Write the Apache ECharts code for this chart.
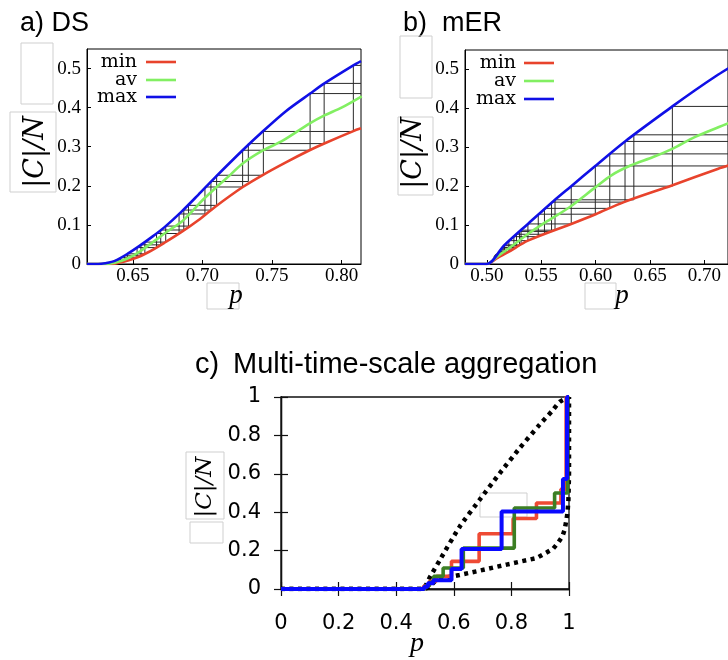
<!DOCTYPE html>
<html><head><meta charset="utf-8">
<script src="https://cdn.jsdelivr.net/npm/echarts@6/dist/echarts.min.js"></script>
<style>html,body{margin:0;padding:0;background:#fff}#c{width:728px;height:660px}</style>
</head><body><div id="c"></div>
<script>
// ---------- Panel a) DS ----------
const aMinX = [0.617,0.630,0.637,0.6514,0.661,0.673,0.685,0.697,0.709,0.729,0.743,0.760,0.777,0.788,0.8085,0.814];
const aMinY = [0,0,0.001,0.0145,0.030,0.055,0.082,0.112,0.146,0.197,0.227,0.260,0.291,0.309,0.340,0.347];
const aAvX = [0.617,0.628,0.637,0.646,0.655,0.664,0.6747,0.685,0.6934,0.700,0.7102,0.720,0.7289,0.7438,0.758,0.7769,0.7877,0.800,0.8145];
const aAvY = [0,0,0.003,0.014,0.032,0.055,0.083,0.108,0.138,0.163,0.197,0.228,0.257,0.291,0.316,0.359,0.380,0.400,0.429];
const aMaxX = [0.617,0.625,0.630,0.637,0.6466,0.655,0.664,0.673,0.685,0.697,0.709,0.7289,0.7433,0.760,0.7774,0.7877,0.8085,0.814];
const aMaxY = [0,0,0.002,0.008,0.027,0.047,0.070,0.095,0.134,0.177,0.221,0.291,0.339,0.391,0.436,0.462,0.508,0.519];
const aStepX  = [0.632,0.636,0.638,0.641,0.644,0.646,0.653,0.6558,0.6586,0.667,0.670,0.6736,0.6832,0.6866,0.6900,0.7018,0.7061,0.7102,0.7289,0.7330,0.7438,0.7774,0.7875,0.8085];
const aStepHi = [0.004,0.007,0.010,0.016,0.021,0.026,0.042,0.049,0.056,0.078,0.087,0.097,0.128,0.138,0.150,0.197,0.211,0.227,0.291,0.308,0.339,0.436,0.462,0.508];
const aStepLo = [0.001,0.001,0.002,0.004,0.007,0.010,0.016,0.021,0.026,0.042,0.049,0.056,0.078,0.087,0.097,0.128,0.138,0.150,0.197,0.211,0.227,0.291,0.308,0.339];
const aXTicks = [0.65,0.70,0.75,0.80];
const aYTicks = [0,0.1,0.2,0.3,0.4,0.5];

// ---------- Panel b) mER ----------
const bMinX = [0.48,0.50,0.51,0.52,0.5378,0.5776,0.600,0.626,0.670,0.7127,0.722];
const bMinY = [0,0,0.016,0.031,0.060,0.103,0.128,0.159,0.2018,0.245,0.253];
const bAvX = [0.48,0.50,0.51,0.5216,0.5378,0.5555,0.576,0.5997,0.6145,0.632,0.6528,0.6705,0.691,0.7133,0.722];
const bAvY = [0,0,0.020,0.043,0.077,0.110,0.146,0.197,0.228,0.253,0.275,0.296,0.326,0.352,0.362];
const bMaxX = [0.48,0.50,0.5157,0.5378,0.5614,0.5776,0.5997,0.627,0.6705,0.691,0.7127,0.722];
const bMaxY = [0,0,0.047,0.103,0.162,0.200,0.252,0.315,0.405,0.446,0.487,0.503];
const bStepX  = [0.5067,0.5073,0.5082,0.5085,0.5105,0.5129,0.5141,0.5157,0.5163,0.5203,0.5249,0.5273,0.5301,0.5315,0.5378,0.5473,0.5530,0.5595,0.5627,0.5776,0.5997,0.6130,0.6270,0.6351,0.6705];
const bStepHi = [0.020,0.022,0.0245,0.0255,0.0315,0.0386,0.0424,0.047,0.049,0.060,0.0703,0.0764,0.0834,0.0869,0.103,0.128,0.143,0.159,0.165,0.200,0.252,0.283,0.315,0.332,0.405];
const bStepLo = [0.0107,0.0117,0.013,0.0136,0.0168,0.020,0.022,0.0245,0.0255,0.0315,0.0386,0.0424,0.047,0.049,0.060,0.0703,0.0764,0.0834,0.0869,0.103,0.128,0.143,0.159,0.165,0.200];
const bXTicks = [0.50,0.55,0.60,0.65,0.70];
const bYTicks = [0,0.1,0.2,0.3,0.4,0.5];

// ---------- Panel c) Multi-time-scale aggregation ----------
const cUpperX = [0,0.49,0.52,0.552,0.621,0.69,0.76,0.829,0.898,0.94,0.968,1.0];
const cUpperY = [0,0,0.07,0.152,0.326,0.465,0.604,0.734,0.856,0.925,0.975,1.0];
const cLowerX = [0,0.50,0.517,0.534,0.563,0.62,0.679,0.783,0.887,0.922,0.945,0.962,0.977,0.985,0.991,0.995,0.998,1.0,1.0];
const cLowerY = [0,0,0.014,0.04,0.057,0.073,0.092,0.127,0.161,0.19,0.21,0.24,0.274,0.309,0.36,0.40,0.465,0.6,1.0];
const cRedX = [0,0.495,0.515,0.54,0.592,0.688,0.806,0.887,0.972,0.99,1.0];
const cRedY = [0,0.015,0.04,0.066,0.144,0.288,0.367,0.448,0.52,1.0,1.0];
const cGreenX = [0,0.50,0.515,0.53,0.563,0.633,0.810,0.950,0.995,1.0];
const cGreenY = [0,0.015,0.035,0.066,0.109,0.213,0.422,0.50,1.0,1.0];
const cBlueX = [0,0.497,0.51,0.529,0.592,0.627,0.766,0.979,0.993,1.0];
const cBlueY = [0,0.012,0.03,0.045,0.104,0.208,0.404,0.573,1.0,1.0];
const cTicks = [0,0.2,0.4,0.6,0.8,1];

// ---------- helpers ----------
const zip = (xs, ys) => xs.map((x, i) => [x, ys[i]]);
function gridSegs(xs, lo, hi, chain, xmax) {
  const segs = [];
  for (let i = 0; i < xs.length; i++) {
    segs.push([xs[i], lo[i], xs[i], hi[i]]);
    const xe = (i + chain < xs.length) ? xs[i + chain] : xmax;
    segs.push([xs[i], hi[i], xe, hi[i]]);
  }
  return segs;
}
function segSeries(ai, segs) {
  return {
    type: 'custom', xAxisIndex: ai, yAxisIndex: ai, data: segs, silent: true, z: 1, clip: true,
    encode: { x: [0, 2], y: [1, 3] },
    renderItem: (params, api) => {
      const p0 = api.coord([api.value(0), api.value(1)]);
      const p1 = api.coord([api.value(2), api.value(3)]);
      return { type: 'line', shape: { x1: p0[0], y1: p0[1], x2: p1[0], y2: p1[1] },
               style: { stroke: '#2a2a2a', lineWidth: 1 } };
    }
  };
}
function curve(ai, xs, ys, color, w) {
  return { type: 'line', xAxisIndex: ai, yAxisIndex: ai, data: zip(xs, ys), smooth: 0.3,
           showSymbol: false, silent: true, z: 3,
           lineStyle: { color: color, width: w } };
}
const RED = '#e8432c', GREEN = '#82ef62', BLUE = '#1010e6';
const serif = 'Liberation Serif';

function xAx(grid, min, max, ticks, fmt) {
  return { type: 'value', gridIndex: grid, min: min, max: max,
    axisLine: { lineStyle: { color: '#000', width: 1 } },
    axisTick: { inside: true, length: 4, customValues: ticks, lineStyle: { color: '#000' } },
    axisLabel: { customValues: ticks, formatter: fmt, color: '#000', fontFamily: serif, fontSize: 19, margin: 3 },
    splitLine: { show: false } };
}
function yAx(grid, ticks) {
  return { type: 'value', gridIndex: grid, min: 0, max: 0.55,
    axisLine: { lineStyle: { color: '#000', width: 1 } },
    axisTick: { inside: true, length: 4, customValues: ticks, lineStyle: { color: '#000' } },
    axisLabel: { customValues: ticks, formatter: v => (v === 0 ? '0' : v.toFixed(1)), color: '#000',
                 fontFamily: serif, fontSize: 19, margin: 6 },
    splitLine: { show: false } };
}
function cAx(pos, showLabel, isY) {
  return { type: 'value', gridIndex: 2, min: 0, max: 1, interval: 0.2, position: pos,
    axisLine: { lineStyle: { color: '#111', width: 1.3 } },
    axisTick: { inside: true, length: 7, lineStyle: { color: '#111', width: 1.2 } },
    axisLabel: { show: showLabel, color: '#000', fontFamily: 'DejaVu Sans', fontSize: 21, margin: isY ? 20 : 24 },
    splitLine: { show: false } };
}

// graphic helpers
function txt(x, y, s, font, align, rot) {
  return { type: 'text', x: x, y: y, rotation: rot || 0, silent: true,
    style: { text: s, font: font, fill: '#000', align: align || 'left', verticalAlign: 'middle',
             textAlign: align || 'left', textVerticalAlign: 'middle' } };
}
function seg(x1, y1, x2, y2, color, w) {
  return { type: 'line', silent: true, shape: { x1, y1, x2, y2 }, style: { stroke: color, lineWidth: w } };
}
function box(x, y, w, h) {
  return { type: 'rect', silent: true, shape: { x, y, width: w, height: h },
           style: { fill: 'none', stroke: '#cfcfcf', lineWidth: 1 } };
}

const chart = echarts.init(document.getElementById('c'), null, { renderer: 'canvas' });
const grids = [
  { left: 87, top: 49, width: 274, height: 215, show: true, borderColor: '#000', borderWidth: 1 },
  { left: 465, top: 50, right: -10, height: 214, show: true, borderColor: '#000', borderWidth: 1 },
  { left: 281, top: 397, width: 288, height: 192, show: true, borderColor: '#111', borderWidth: 1.3 }
];

const option = {
  animation: false,
  backgroundColor: '#fff',
  grid: grids,
  xAxis: [
    xAx(0, 0.617, 0.814, aXTicks, v => v.toFixed(2)),
    xAx(1, 0.48, 0.7216, bXTicks, v => v.toFixed(2)),
    cAx('bottom', true, false),
    cAx('top', false, false)
  ],
  yAxis: [
    yAx(0, aYTicks),
    yAx(1, bYTicks),
    cAx('left', true, true),
    cAx('right', false, true)
  ],
  series: [
    segSeries(0, gridSegs(aStepX, aStepLo, aStepHi, 3, 0.814)),
    curve(0, aMinX, aMinY, RED, 2.6),
    curve(0, aAvX, aAvY, GREEN, 2.6),
    curve(0, aMaxX, aMaxY, BLUE, 2.6),
    segSeries(1, gridSegs(bStepX, bStepLo, bStepHi, 5, 0.7216)),
    curve(1, bMinX, bMinY, RED, 2.6),
    curve(1, bAvX, bAvY, GREEN, 2.6),
    curve(1, bMaxX, bMaxY, BLUE, 2.6),
    { type: 'line', xAxisIndex: 2, yAxisIndex: 2, data: zip(cUpperX, cUpperY), showSymbol: false, silent: true, z: 2,
      smooth: 0.2, lineStyle: { color: '#000', width: 4.5, type: [4, 4.5], cap: 'butt' } },
    { type: 'line', xAxisIndex: 2, yAxisIndex: 2, data: zip(cLowerX, cLowerY), showSymbol: false, silent: true, z: 2,
      lineStyle: { color: '#000', width: 4.5, type: [4, 4.5], cap: 'butt' } },
    { type: 'line', xAxisIndex: 2, yAxisIndex: 2, step: 'end', data: zip(cRedX, cRedY), showSymbol: false, silent: true, z: 3,
      lineStyle: { color: '#ee4a34', width: 3.6 } },
    { type: 'line', xAxisIndex: 2, yAxisIndex: 2, step: 'end', data: zip(cGreenX, cGreenY), showSymbol: false, silent: true, z: 4,
      lineStyle: { color: '#3c7f24', width: 3.6 } },
    { type: 'line', xAxisIndex: 2, yAxisIndex: 2, step: 'end', data: zip(cBlueX, cBlueY), showSymbol: false, silent: true, z: 5,
      lineStyle: { color: '#0a0aff', width: 4 } }
  ],
  graphic: [
    // titles
    txt(20, 24, 'a) DS', '27px "Liberation Sans"'),
    txt(403, 24, 'b)', '27px "Liberation Sans"'),
    txt(442, 24, 'mER', '27px "Liberation Sans"'),
    txt(195, 365, 'c)', '29px "Liberation Sans"'),
    txt(233, 365, 'Multi-time-scale aggregation', '29px "Liberation Sans"'),
    // placeholder boxes
    box(21, 43, 32, 61), box(10, 112, 46, 80), box(207, 283, 32, 26),
    box(400, 36, 32, 62), box(398, 117, 35, 78), box(585, 283, 31, 26),
    box(186, 452, 38, 67), box(190, 522, 33, 21), box(480, 493, 47, 24),
    // axis titles
    txt(36, 152, '|C|/N', 'italic 27px "DejaVu Serif"', 'center', Math.PI / 2),
    txt(414, 153, '|C|/N', 'italic 27px "DejaVu Serif"', 'center', Math.PI / 2),
    txt(205, 487, '|C|/N', 'italic 23px "DejaVu Serif"', 'center', Math.PI / 2),
    txt(236, 296, 'p', 'italic 27px "Liberation Serif"', 'center'),
    txt(622, 296, 'p', 'italic 27px "Liberation Serif"', 'center'),
    txt(417, 644, 'p', 'italic 28px "Liberation Serif"', 'center'),
    // legend a
    txt(137, 62, 'min', '19px "DejaVu Serif"', 'right'), seg(146, 62, 176, 62, RED, 2.6),
    txt(137, 80, 'av', '19px "DejaVu Serif"', 'right'), seg(146, 80, 176, 80, GREEN, 2.6),
    txt(137, 97, 'max', '19px "DejaVu Serif"', 'right'), seg(146, 97, 176, 97, BLUE, 2.6),
    // legend b
    txt(516, 63, 'min', '19px "DejaVu Serif"', 'right'), seg(524, 63, 554, 63, RED, 2.6),
    txt(516, 81, 'av', '19px "DejaVu Serif"', 'right'), seg(524, 81, 554, 81, GREEN, 2.6),
    txt(516, 99, 'max', '19px "DejaVu Serif"', 'right'), seg(524, 99, 554, 99, BLUE, 2.6)
  ]
};
chart.setOption(option);
</script></body></html>
